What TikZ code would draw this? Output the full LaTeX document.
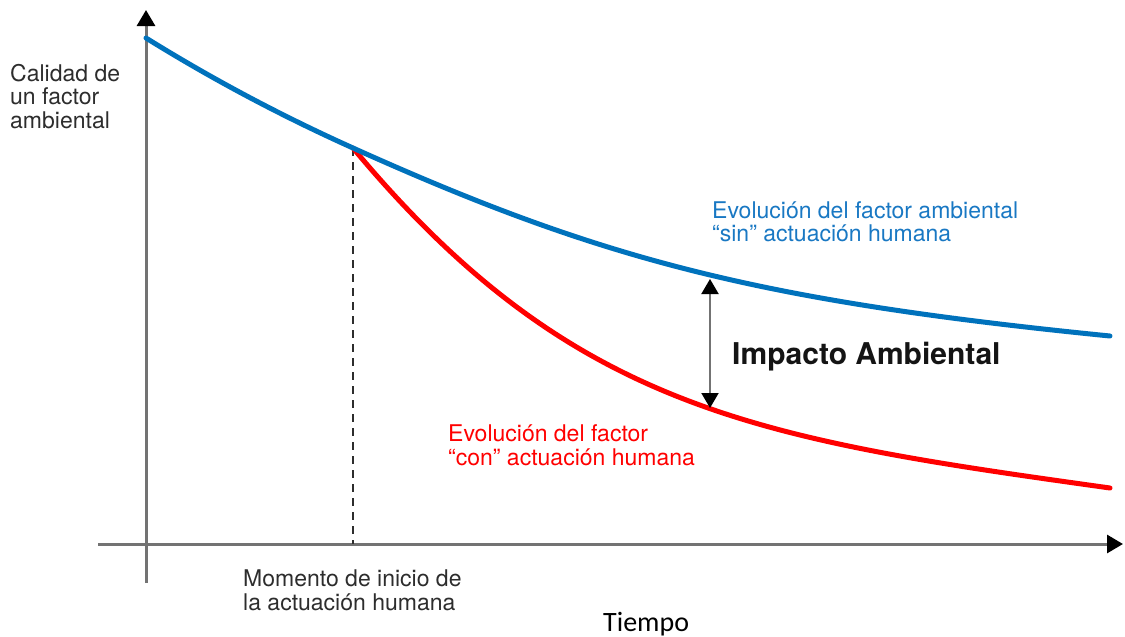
\documentclass[tikz,border=0pt]{standalone}
\usepackage{fontspec}
\setmainfont{TeX Gyre Heros}
\newfontfamily\calib{Carlito}
\usetikzlibrary{arrows.meta}
\definecolor{blueline}{RGB}{0,114,188}
\definecolor{bluetext}{RGB}{25,120,195}
\definecolor{redline}{RGB}{255,0,0}
\definecolor{axisgray}{RGB}{115,115,115}
\definecolor{darktext}{RGB}{45,45,45}
\tikzset{
  axisline/.style={draw=axisgray, line width=3pt,
    -{Triangle[width=18pt,length=16pt,color=black]}},
  curveblue/.style={draw=blueline, line width=5pt, line cap=round},
  curvered/.style={draw=redline, line width=5pt, line cap=round},
  guide/.style={draw=darktext, line width=2pt, dash pattern=on 8pt off 6pt},
  impactarrow/.style={draw=axisgray, line width=2pt,
    {Triangle[width=17pt,length=15pt,color=black]}-{Triangle[width=17pt,length=15pt,color=black]}},
  lbl/.style={anchor=base west, inner sep=0pt, font=\fontsize{23}{25}\selectfont},
}
\begin{document}
\begin{tikzpicture}[x=1pt,y=-1pt]
\useasboundingbox (0,0) rectangle (1125,637);
% axes
\coordinate (yb) at (146,583);
\coordinate (yt) at (146,10);
\coordinate (xl) at (98,544);
\coordinate (xr) at (1123,544);
\draw[axisline] (yb) -- (yt);
\draw[axisline] (xl) -- (xr);
% key points
\coordinate (b0) at (146,38);
\coordinate (start) at (353,148);
\coordinate (b1) at (1110,336);
\coordinate (r1) at (1110,488);
\coordinate (foot) at (353,544);
\coordinate (bimp) at (710,279);
\coordinate (rimp) at (710,408);
% dashed guide
\draw[guide] (start) -- (foot);
% red curve
\draw[curvered] (start) .. controls (573,412) and (760,439) .. (r1);
% blue curve
\draw[curveblue] (b0) .. controls (215,80.8) and (284,117) .. (start)
  .. controls (603,260.5) and (760,301) .. (b1);
% impact arrow
\draw[impactarrow] (bimp) -- (rimp);
% labels
\node[lbl, text=darktext] (ya) at (10,81) {Calidad de};
\node[lbl, text=darktext] (yb2) at (10,104.5) {un factor};
\node[lbl, text=darktext] (yc) at (10,128) {ambiental};
\node[lbl, text=bluetext] (ba) at (712,218) {Evolución del factor ambiental};
\node[lbl, text=bluetext] (bb) at (712,241) {“sin” actuación humana};
\node[anchor=base west, inner sep=0pt, font=\fontsize{30}{32}\bfseries\selectfont, text={rgb,255:red,20;green,20;blue,20}] (imp) at (732,364) {Impacto Ambiental};
\node[lbl, text=redline] (ra) at (448,441) {Evolución del factor};
\node[lbl, text=redline] (rb) at (448,465) {“con” actuación humana};
\node[lbl, text=darktext] (ma) at (243,586) {Momento de inicio de};
\node[lbl, text=darktext] (mb) at (243,610) {la actuación humana};
\node[anchor=base west, inner sep=0pt, font=\calib\fontsize{28}{30}\selectfont] (tiempo) at (603,631) {Tiempo};
\end{tikzpicture}
\end{document}
